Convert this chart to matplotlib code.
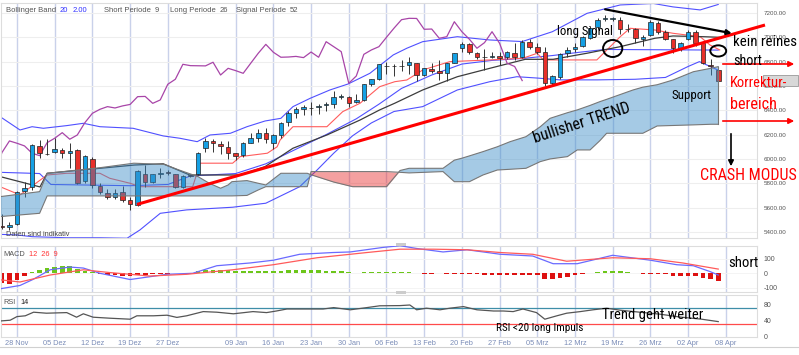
import numpy as np
import matplotlib
matplotlib.use('Agg')
import matplotlib.pyplot as plt
from matplotlib.patches import Ellipse, Rectangle, FancyArrowPatch
from matplotlib.lines import Line2D
from matplotlib import font_manager as fm

W, H = 799, 355

# ---------------- data ----------------
# day index: 0 = 28 Nov, one step per trading day
days = np.arange(-2, 94)

opens = [5445, 5440, 5463, 5737, 5772, 6107, 6040, 6057, 6074, 6047,
         6074, 5822, 6000, 5778, 5718, 5685, 5726, 5663, 5620, 5874,
         5813, 5880, 5892, 5874, 5772, 5865, 5877, 6088, 6148, 6121,
         6101, 6047, 6033, 6134, 6175, 6211, 6129, 6197, 6301, 6381,
         6408, 6417, 6425, 6440, 6452, 6510, 6512, 6466, 6485, 6616,
         6655, 6765, 6764, 6764, 6773, 6787, 6690, 6740, 6723, 6704,
         6792, 6910, 6942, 6874, 6836, 6841, 6847, 6836, 6874, 6836,
         6964, 6923, 6882, 6622, 6676, 6869, 6901, 6929, 6995, 7085,
         7150, 7152, 7142, 7066, 7066, 6984, 7019, 7120, 7046, 6984,
         6910, 6984, 7046, 6951, 6770, 6731]
highs = [5550, 5480, 5735, 5813, 6120, 6156, 6162, 6170, 6088, 6129,
         6085, 6030, 6020, 5800, 5750, 5755, 5780, 5690, 5909, 5951,
         5880, 5923, 5905, 5880, 5870, 5880, 6060, 6170, 6165, 6150,
         6150, 6050, 6140, 6210, 6250, 6252, 6205, 6300, 6390, 6430,
         6440, 6470, 6450, 6470, 6560, 6535, 6520, 6530, 6615, 6660,
         6780, 6800, 6780, 6810, 6835, 6790, 6750, 6790, 6810, 6790,
         6870, 6960, 6955, 6880, 6900, 6880, 6880, 6890, 6951, 6975,
         6990, 6950, 6920, 6690, 6870, 6920, 6950, 7010, 7090, 7160,
         7180, 7170, 7170, 7110, 7080, 7020, 7140, 7135, 7060, 6990,
         6960, 7060, 7060, 6960, 6820, 6740]
lows = [5425, 5415, 5455, 5690, 5745, 6006, 6035, 6050, 6006, 5923,
        5795, 5800, 5765, 5710, 5670, 5670, 5650, 5581, 5615, 5772,
        5800, 5841, 5870, 5765, 5765, 5850, 5870, 6060, 6060, 6040,
        6000, 5990, 6020, 6130, 6140, 6129, 6080, 6170, 6270, 6340,
        6360, 6360, 6370, 6390, 6420, 6490, 6430, 6460, 6480, 6600,
        6650, 6700, 6680, 6720, 6700, 6644, 6680, 6710, 6650, 6640,
        6785, 6880, 6860, 6820, 6731, 6830, 6770, 6820, 6814, 6830,
        6900, 6860, 6600, 6610, 6660, 6840, 6880, 6920, 6990, 7070,
        7130, 7135, 7030, 7040, 6950, 6930, 7010, 7030, 6975, 6870,
        6890, 6980, 6930, 6780, 6690, 6640]
closes = [5440, 5455, 5731, 5764, 6115, 6047, 6038, 6080, 6052, 6066,
          5805, 6022, 5786, 5726, 5685, 5718, 5663, 5627, 5900, 5813,
          5874, 5884, 5886, 5772, 5863, 5861, 6052, 6148, 6129, 6107,
          6047, 6027, 6134, 6170, 6216, 6162, 6197, 6298, 6375, 6408,
          6430, 6419, 6436, 6448, 6512, 6514, 6457, 6485, 6614, 6655,
          6778, 6767, 6766, 6765, 6795, 6690, 6745, 6726, 6704, 6787,
          6869, 6942, 6877, 6836, 6838, 6843, 6833, 6879, 6836, 6964,
          6923, 6882, 6622, 6682, 6860, 6896, 6923, 7000, 7075, 7145,
          7156, 7155, 7066, 7068, 6992, 7005, 7128, 7046, 6984, 6910,
          6956, 7046, 6951, 6787, 6760, 6644]

# Bollinger band 20 / 2
bb_up_x = [-2.25, 0.4, 2, 3.5, 6.6, 8.8, 11, 15.4, 19.4, 21.6, 23.9, 25.6, 28.3, 30.5,
           32.9, 35, 36.6, 38.9, 41.5, 43.9, 46.8, 49.9, 51.7, 53.8, 58.4, 62.7, 67,
           71, 75.6, 80, 84.4, 87, 90.6, 93]
bb_up = [6348, 6238, 6265, 6252, 6274, 6293, 6265, 6252, 6189, 6170, 6142, 6197, 6211, 6265,
         6312, 6334, 6430, 6499, 6567, 6616, 6704, 6855, 6910, 6964, 7005, 6978, 6965,
         7046, 7197, 7266, 7278, 7250, 7225, 7270]
bb_mid_x = [-2.25, 3, 4.5, 15, 20, 23, 29, 33, 37, 41, 45, 48, 51, 55, 59, 63, 67, 71, 75, 78, 93]
bb_mid = [5890, 5880, 5790, 5780, 5790, 5860, 5880, 5960, 6080, 6200, 6330, 6450, 6580,
          6690, 6780, 6810, 6826, 6850, 6880, 6900, 6895]
bb_lo_x = [-2.25, 0, 2, 6.6, 11, 14.6, 16.3, 19, 22.5, 28.6, 33, 37.5, 39.8, 42, 44.5, 47,
           50, 53.8, 58.4, 62.7, 66.3, 69, 72, 77, 82, 86, 89, 90.5, 93]
bb_lo = [5380, 5375, 5361, 5352, 5352, 5348, 5416, 5553, 5581, 5603, 5636, 5772, 5909, 6047,
         6190, 6296, 6390, 6430, 6567, 6635, 6676, 6665, 6650, 6650, 6655, 6670, 6760, 6800, 6730]

# Ichimoku 9 / 26 / 52
tenkan_x = [-2.25, 0.4, 4, 6.6, 11, 12.3, 15, 16.3, 23.3, 24.3, 28.6, 29.6, 33.2, 34.5,
            34.9, 36.6, 41.1, 43.2, 45.5, 48.1, 50.1, 51.7, 53.8, 57.4, 62.7, 67.1, 69,
            69.8, 76.9, 80, 81.3, 84.6, 87, 90.6, 91.9, 93.2]
tenkan = [5772, 5704, 5868, 5882, 5882, 5841, 5800, 5772, 5772, 5965, 5965, 6019, 6047, 6100,
          6156, 6265, 6265, 6389, 6458, 6594, 6635, 6649, 6731, 6800, 6814, 6828, 6869,
          6814, 6814, 7005, 7074, 7060, 7033, 7005, 6937, 6896]
kijun_x = [-2.25, -0.5, 3.05, 4, 11, 15.6, 19.4, 22.9, 29.6, 32.9, 36.6, 41.1, 45.5, 48.1,
           50.1, 53.8, 58.4, 62.7, 67.4, 71.1, 75.6, 80, 84.6, 87, 91, 93.2]
kijun = [5855, 5827, 5770, 5882, 5923, 5950, 5960, 5868, 5868, 5937, 6088, 6197, 6320, 6403,
         6458, 6567, 6676, 6745, 6819, 6819, 6869, 6923, 6992, 7011, 7005, 7000]
cloud_x = [-2.25, 3, 4, 11, 15.5, 19.5, 21.5, 24, 25.5, 27, 28, 28.5, 30.5, 32, 33, 35, 38.5,
           39, 42, 44.5, 49, 50.8, 52, 56.5, 58, 59, 60, 61.8, 63.7, 65.4, 67.5, 69.4, 70.7,
           73, 74.3, 76, 77.3, 78.2, 81.7, 83, 84.9, 87, 89.7, 92, 93]
span_a = [5690, 5731, 5882, 5928, 5965, 5955, 5909, 5855, 5800, 5759, 5786, 5813, 5822, 5800,
          5786, 5882, 5882, 5870, 5810, 5772, 5772, 5905, 5923, 5923, 5990, 6006, 6025, 6060,
          6100, 6142, 6183, 6265, 6334, 6380, 6403, 6440, 6471, 6490, 6567, 6590, 6610, 6649,
          6717, 6745, 6759]
span_b = [5526, 5553, 5696, 5696, 5696, 5696, 5696, 5696, 5696, 5696, 5696, 5696, 5700, 5745,
          5772, 5772, 5772, 5896, 5896, 5896, 5896, 5890, 5885, 5896, 5813, 5813, 5813, 5868,
          5909, 5915, 5923, 5978, 6000, 6019, 6074, 6074, 6150, 6211, 6211, 6211, 6271, 6275,
          6280, 6285, 6285]

# MACD 12 26 9
macd_x = [-2.25, 0.4, 2.1, 4.4, 7, 8.8, 11, 15, 19.9, 23.3, 26.5, 30.9, 34, 37.5, 41.9, 44.2,
          48.5, 50.8, 53, 56.5, 59.7, 64.1, 68.4, 71.1, 74.3, 79, 84, 87.5, 89.7, 91.9, 93]
macd = [-107, -84, -43, 24, 43, 36, 0, -43, -7, 0, 52, 71, 90, 131, 143, 147,
        178, 190, 171, 147, 162, 131, 119, 66, 66, 124, 90, 59, 52, 12, -12]
signal_x = [-2.25, 0.4, 4.4, 8.8, 12.3, 17.6, 22.5, 28.6, 34, 39.8, 46.4, 50.8, 55.2, 59.7,
            64.1, 68.4, 72.9, 79, 84, 88.3, 93]
signal = [-45, -60, -12, 24, 5, -19, -7, 24, 59, 107, 143, 166, 166, 162,
          143, 131, 83, 107, 100, 71, 29]
hist = [-70, -75, -45, -20, 12, 25, 38, 43, 48, 48,
        28, 18, 6, -5, -10, -14, -16, -18, -15, -12,
        -8, -4, -2, 2, 3, 4, 14, 20, 26, 24,
        20, 18, 17, 17, 17, 16, 17, 18, 20, 22,
        22, 22, 20, 18, 18, 15, 8, 5, 8, 10,
        11, 10, 10, 8, 6, 2, -2, -3, 2, -3,
        -4, -5, -6, -8, -9, -9, -9, -10, -10, -12,
        -14, -15, -40, -40, -30, -25, -15, -5, 4, 10,
        15, 16, 14, 6, 2, -2, -3, -3, -5, -18,
        -20, -22, -22, -30, -38, -50]

# RSI 14
rsi_x = [-2.25, -0.9, 0, 1.1, 2.2, 3.9, 6.6, 7.9, 8.8, 10.1, 12.3, 15, 15.9, 18.1, 19.9, 21.2,
         22.5, 24.7, 26.5, 28.7, 31.3, 33.1, 34.4, 35.8, 38.9, 40.6, 42, 44.2, 46.4, 48.1,
         50.8, 52.1, 53, 54.3, 56.1, 57.4, 59.2, 61, 63.2, 64.5, 65.8, 67.1, 68.9, 70, 71.6,
         72.9, 74.7, 76.4, 78.2, 80, 82.6, 85.3, 87.9, 90.8, 93]
rsi = [38, 40, 49, 51, 60, 57.5, 59, 47.5, 56, 47.5, 45, 42.5, 51, 51, 52.5, 47,
       51, 61.5, 60, 56, 61.5, 59, 63, 68, 68, 68, 71.5, 66, 71.5, 76,
       76.5, 78, 66, 70, 66, 70, 74, 66, 63, 63, 61.5, 68, 59, 42.5, 51,
       57.5, 61.5, 66, 70, 65, 60, 55, 48, 42.5, 36.5]

date_pos = [0, 5, 10, 15, 20, 29, 34, 39, 44, 49, 54, 59, 64, 69, 74, 79, 84, 89, 94]
date_labels = ['28 Nov', '05 Dez', '12 Dez', '19 Dez', '27 Dez', '09 Jan', '16 Jan', '23 Jan',
               '30 Jan', '06 Feb', '13 Feb', '20 Feb', '27 Feb', '05 Mrz', '12 Mrz', '19 Mrz',
               '26 Mrz', '02 Apr', '08 Apr']
price_ticks = [5400, 5600, 5800, 6000, 6200, 6400, 6600, 6800, 7000, 7200]

# ---------------- fonts ----------------
entries = fm.fontManager.ttflist
names = {f.name for f in entries}
BASE = 'Liberation Sans' if 'Liberation Sans' in names else 'DejaVu Sans'

# a narrow face for the hand-written notes, if one is installed
NARROW, STRETCH = BASE, 'normal'
for n in ['Liberation Sans Narrow', 'Arial Narrow', 'Roboto Condensed', 'Open Sans Condensed']:
    if n in names:
        NARROW = n
        break
else:
    for n in ['Roboto', 'Open Sans', 'Noto Sans', 'Liberation Sans', 'DejaVu Sans']:
        hit = [f for f in entries if f.name == n and str(f.stretch) in
               ('condensed', 'semi-condensed', 'extra-condensed')]
        if hit:
            NARROW, STRETCH = n, str(hit[0].stretch)
            break

plt.rcParams['font.family'] = [BASE, 'DejaVu Sans']
plt.rcParams['axes.unicode_minus'] = False

fig = plt.figure(figsize=(W / 100, H / 100), dpi=100)
renderer = fig.canvas.get_renderer()


def box(l, t, r, b):
    return [l / W, 1 - b / H, (r - l) / W, (b - t) / H]


def px(x, y):
    return x / W, 1 - y / H


ax = fig.add_axes(box(1, 3, 757, 238))
axm = fig.add_axes(box(1, 246, 757, 292), sharex=ax)
axr = fig.add_axes(box(1, 295, 757, 337), sharex=ax)

for a in (ax, axm, axr):
    for s in a.spines.values():
        s.set_color('#dddddd')
        s.set_linewidth(0.8)
    a.set_xticks(date_pos)
    a.grid(axis='x', color='#c9d1ea', lw=1.0, zorder=0)
    a.tick_params(axis='x', length=0)
    a.tick_params(axis='y', length=0, pad=5, labelcolor='#555555',
                  left=False, labelleft=False, right=False, labelright=True)
    a.set_axisbelow(True)

ax.set_xlim(-2.12, 98.14)
ax.tick_params(axis='x', labelbottom=False)
axm.tick_params(axis='x', labelbottom=False)

# ---------------- main panel ----------------
ax.set_ylim(5350, 7282)
ax.set_yticks(price_ticks)
ax.set_yticklabels(['%.2f' % p for p in price_ticks])
ax.tick_params(axis='y', labelsize=4.5)
ax.grid(axis='y', color='#eeeeee', lw=0.8, zorder=0)

ax.plot(bb_up_x, bb_up, color='#5050ff', lw=0.8, zorder=2)
ax.plot(bb_mid_x, bb_mid, color='#5050ff', lw=0.8, zorder=2)
ax.plot(bb_lo_x, bb_lo, color='#5050ff', lw=0.8, zorder=2)
ax.plot(tenkan_x, tenkan, color='#ff5c5c', lw=0.8, zorder=2)
ax.plot(kijun_x, kijun, color='#3c3c3c', lw=0.9, zorder=2)
ax.plot(days - 26, closes, color='#a845a8', lw=0.9, zorder=2)

o = np.array(opens); c = np.array(closes)
up = c >= o
ax.vlines(days, lows, highs, color='#333333', lw=0.7, zorder=3)
body_h = np.maximum(np.abs(c - o), 2)
ax.bar(days, body_h, bottom=np.minimum(o, c), width=0.6,
       color=np.where(up, '#15a0e4', '#e8302a'), edgecolor='#222222', lw=0.5, zorder=3)

sa = np.array(span_a); sb = np.array(span_b)
ax.fill_between(cloud_x, sa, sb, where=sa >= sb, interpolate=True,
                color='#398bc7', alpha=0.45, lw=0, zorder=4)
ax.fill_between(cloud_x, sa, sb, where=sa < sb, interpolate=True,
                color='#e72c2c', alpha=0.45, lw=0, zorder=4)
ax.plot(cloud_x, span_a, color='#777777', lw=0.8, zorder=4)
ax.plot(cloud_x, span_b, color='#777777', lw=0.8, zorder=4)
ax.plot([cloud_x[-1]] * 2, [span_a[-1], span_b[-1]], color='#777777', lw=0.8, zorder=4)

# drawn annotations
ax.plot([15.9, 99.2], [5626, 7101], color='#ff0000', lw=2.2, zorder=6,
        clip_on=False, solid_capstyle='butt')
ax.annotate('', xy=(94.8, 7033), xytext=(78, 7230), zorder=6,
            arrowprops=dict(arrowstyle='-|>', color='black', lw=1.6,
                            mutation_scale=7, shrinkA=0, shrinkB=0))
ax.add_patch(Ellipse((79.0, 6908), 2.55, 140, fill=False, ec='black', lw=1.4, zorder=6))
ax.add_patch(Ellipse((93.0, 6888), 2.1, 92, fill=False, ec='black', lw=1.4, zorder=6,
                     clip_on=False))

# ---------------- MACD panel ----------------
axm.set_ylim(-129, 188)
axm.set_yticks([-100, 0, 100])
axm.tick_params(axis='y', labelsize=5)
axm.grid(axis='y', color='#f2f2f2', lw=0.6)
hv = np.array(hist)
axm.bar(days, hv, width=0.62, color=np.where(hv >= 0, '#6cc61a', '#dd1111'), lw=0, zorder=2)
axm.plot(macd_x, macd, color='#6a6aff', lw=0.9, zorder=3)
axm.plot(signal_x, signal, color='#ff5a5a', lw=0.9, zorder=3)

# ---------------- RSI panel ----------------
axr.set_ylim(-2, 103)
axr.set_yticks([0, 40, 80])
axr.tick_params(axis='y', labelsize=5)
axr.axhline(70, color='#3e8ea8', lw=0.9, zorder=2)
axr.axhline(30, color='#ff4a4a', lw=0.9, zorder=2)
axr.plot(rsi_x, rsi, color='#555555', lw=0.9, zorder=3)
axr.set_xticklabels(date_labels)
axr.tick_params(axis='x', labelsize=5.3, labelcolor='#7b8db8', pad=2)

# ---------------- header texts ----------------
gray = '#555555'
hdr = [(6, 'Bollinger Band', gray), (60, '20', '#3030ff'), (73, '2.00', '#3030ff'),
       (104, 'Short Periode', gray), (155, '9', gray), (170, 'Long Periode', gray),
       (220, '26', gray), (236, 'Signal Periode', gray), (290, '52', gray)]
for x, t, col in hdr:
    fig.text(*px(x, 10), t, fontsize=5.5, color=col, va='center', ha='left')
fig.text(*px(6, 235), 'Daten sind indikativ', fontsize=5.3, color='#444444', va='center')
fig.text(*px(3, 254), 'MACD', fontsize=5.3, color=gray, va='center')
fig.text(*px(29, 254), '12  26  9', fontsize=5.3, color='#ff3333', va='center')
fig.text(*px(3, 302), 'RSI', fontsize=5.3, color=gray, va='center')
fig.text(*px(20, 302), '14', fontsize=5.3, color='#222222', va='center')

# panel handles and current price box
for y in (243, 291):
    fig.patches.append(Rectangle(px(396, y + 3), 10 / W, 3 / H, transform=fig.transFigure,
                                 fc='#cccccc', ec='none'))
fig.patches.append(Rectangle(px(763, 86), 35 / W, 11 / H, transform=fig.transFigure,
                             fc='#d8d8d8', ec='#999999', lw=0.6))
fig.add_artist(Line2D([0, 1], [1 - 347 / H] * 2, color='#d0d0d0', lw=0.8))


# ---------------- hand-written notes (sized to their width in the picture) ----------------
def note(x, y, s, width, color='black', rot=0, ha='left'):
    t = fig.text(*px(x, y), s, fontsize=10, color=color, family=[NARROW, BASE],
                 fontstretch=STRETCH, va='center', ha=ha, rotation_mode='anchor')
    w = t.get_window_extent(renderer).width
    t.set_fontsize(min(10 * width / w, 13))
    t.set_rotation(rot)
    return t


note(557, 32, 'long Signal', 56)
note(733, 42, 'kein reines', 63)
note(733, 61, 'short', 29)
note(730, 83, 'Korrektur-', 57, '#ff0000')
note(730, 104, 'bereich', 47, '#ff0000')
note(700, 175, 'CRASH MODUS', 97, '#ff0000')
note(672, 95, 'Support', 40)
note(728, 263, 'short', 30)
note(602, 315, 'Trend geht weiter', 100)
note(496, 328, 'RSI <20 long Impuls', 87)
note(582, 123, 'bullisher TREND', 102, rot=18, ha='center')

for y in (64, 121):
    fig.add_artist(FancyArrowPatch(px(720, y), px(797, y), transform=fig.transFigure,
                                   arrowstyle='-|>', mutation_scale=8, color='#ff0000', lw=1.2))
fig.add_artist(FancyArrowPatch(px(731, 131), px(731, 169), transform=fig.transFigure,
                               arrowstyle='-|>', mutation_scale=8, color='black', lw=1.2))

fig.savefig('out.png', dpi=100, facecolor='white')
